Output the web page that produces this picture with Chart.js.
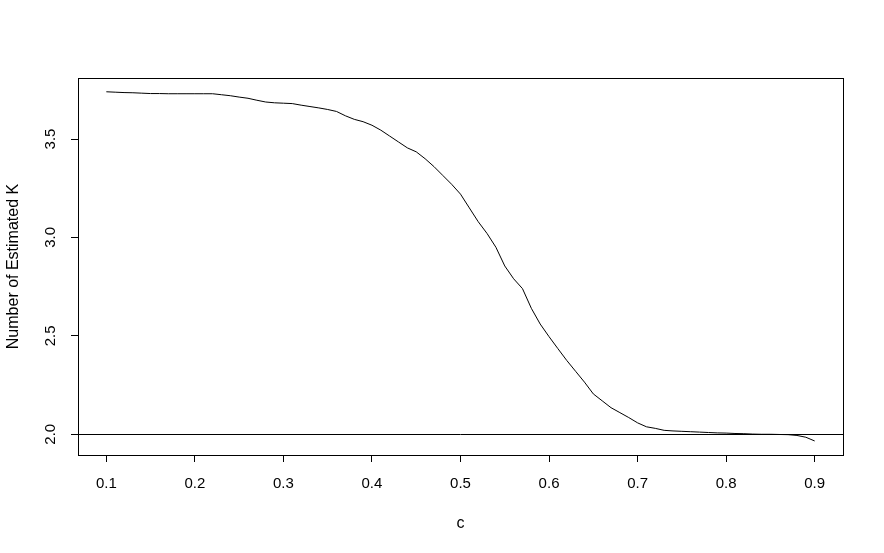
<!DOCTYPE html>
<html>
<head>
<meta charset="utf-8">
<script src="https://cdn.jsdelivr.net/npm/chart.js@4.4.1/dist/chart.umd.min.js"></script>
<style>
  html, body { margin: 0; padding: 0; background: #ffffff; }
  #wrap { width: 884px; height: 553px; }
</style>
</head>
<body>
<div id="wrap"><canvas id="chart" width="884" height="553"></canvas></div>
<script>
// ---- data ----
const cValues = [0.10,0.11,0.12,0.13,0.14,0.15,0.16,0.17,0.18,0.19,
                 0.20,0.21,0.22,0.23,0.24,0.25,0.26,0.27,0.28,0.29,
                 0.30,0.31,0.32,0.33,0.34,0.35,0.36,0.37,0.38,0.39,
                 0.40,0.41,0.42,0.43,0.44,0.45,0.46,0.47,0.48,0.49,
                 0.50,0.51,0.52,0.53,0.54,0.55,0.56,0.57,0.58,0.59,
                 0.60,0.61,0.62,0.63,0.64,0.65,0.66,0.67,0.68,0.69,
                 0.70,0.71,0.72,0.73,0.74,0.75,0.76,0.77,0.78,0.79,
                 0.80,0.81,0.82,0.83,0.84,0.85,0.86,0.87,0.88,0.89,0.90];
const estimatedK = [3.740,3.738,3.736,3.735,3.733,3.731,3.731,3.730,3.730,3.730,
                    3.730,3.730,3.730,3.725,3.720,3.713,3.707,3.697,3.688,3.684,
                    3.682,3.680,3.672,3.665,3.658,3.650,3.640,3.618,3.600,3.588,
                    3.570,3.545,3.515,3.485,3.455,3.435,3.400,3.360,3.315,3.270,
                    3.220,3.150,3.080,3.020,2.950,2.855,2.790,2.740,2.640,2.560,
                    2.496,2.435,2.375,2.320,2.265,2.205,2.170,2.135,2.110,2.085,
                    2.058,2.038,2.030,2.020,2.017,2.015,2.013,2.011,2.009,2.007,
                    2.006,2.004,2.003,2.001,2.000,2.000,1.999,1.998,1.994,1.985,1.966];
const referenceK = 2;
const xTicks = [0.1,0.2,0.3,0.4,0.5,0.6,0.7,0.8,0.9];
const yTicks = [2.0,2.5,3.0,3.5];
const xLimits = [0.068, 0.932];
const yLimits = [1.8947, 3.810];
const xTitle = 'c';
const yTitle = 'Number of Estimated K';

// ---- chart ----
const FONT = 'Liberation Sans, Arial, sans-serif';

const framePlugin = {
  id: 'frame',
  afterDatasetsDraw(chart) {
    const {ctx, chartArea: a, scales} = chart;
    ctx.save();
    ctx.strokeStyle = '#000';
    ctx.lineWidth = 1;
    // reference line (abline h = 2)
    const y = Math.round(scales.y.getPixelForValue(referenceK)) + 0.5;
    ctx.beginPath();
    ctx.moveTo(a.left, y);
    ctx.lineTo(a.right, y);
    ctx.stroke();
    // box
    ctx.strokeRect(Math.round(a.left) + 0.5, Math.round(a.top) + 0.5,
                   Math.round(a.right - a.left), Math.round(a.bottom - a.top));
    ctx.restore();
  }
};

new Chart(document.getElementById('chart'), {
  type: 'line',
  data: {
    datasets: [{
      data: cValues.map((c, i) => ({x: c, y: estimatedK[i]})),
      borderColor: '#000000',
      borderWidth: 1,
      pointRadius: 0,
      tension: 0,
      fill: false
    }]
  },
  options: {
    responsive: false,
    animation: false,
    devicePixelRatio: 1,
    layout: { padding: { top: 78, right: 41, left: 0, bottom: 0 } },
    plugins: { legend: { display: false }, tooltip: { enabled: false } },
    scales: {
      x: {
        type: 'linear',
        min: xLimits[0], max: xLimits[1],
        afterBuildTicks: s => { s.ticks = xTicks.map(v => ({value: v})); },
        afterFit: s => { s.height = 98; },
        grid: { drawOnChartArea: false, drawTicks: true, tickLength: 7, color: '#000', tickColor: '#000', tickWidth: 1 },
        border: { display: false },
        ticks: {
          color: '#000',
          font: { family: FONT, size: 15 },
          padding: 13,
          maxRotation: 0, minRotation: 0,
          callback: v => Number(v).toFixed(1)
        },
        title: {
          display: true, text: xTitle, color: '#000',
          font: { family: FONT, size: 16 },
          padding: { top: 0, bottom: 20 }
        }
      },
      y: {
        type: 'linear',
        min: yLimits[0], max: yLimits[1],
        afterBuildTicks: s => { s.ticks = yTicks.map(v => ({value: v})); },
        afterFit: s => { s.width = 78; },
        grid: { drawOnChartArea: false, drawTicks: true, tickLength: 7, color: '#000', tickColor: '#000', tickWidth: 1 },
        border: { display: false },
        ticks: {
          color: '#000',
          font: { family: FONT, size: 15 },
          padding: 10,
          crossAlign: 'center',
          minRotation: 90, maxRotation: 90,
          callback: v => Number(v).toFixed(1)
        },
        title: {
          display: true, text: yTitle, color: '#000',
          font: { family: FONT, size: 16 },
          padding: { top: 4, bottom: 0 }
        }
      }
    }
  },
  plugins: [framePlugin]
});
</script>
</body>
</html>
